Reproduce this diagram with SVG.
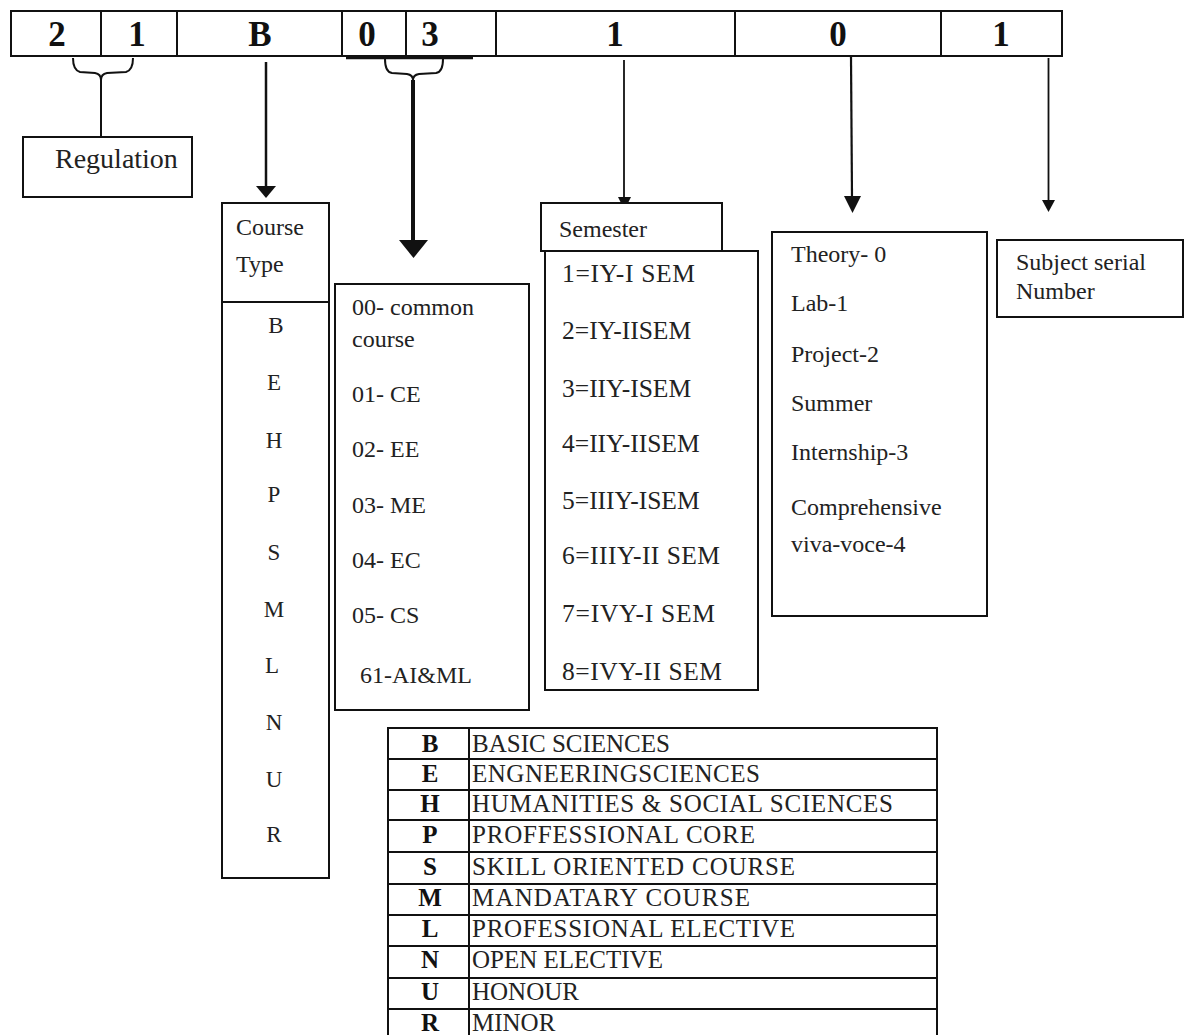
<svg xmlns="http://www.w3.org/2000/svg" width="1184" height="1035" viewBox="0 0 1184 1035">
<style>
.bx{fill:#fff;stroke:#111;stroke-width:2}
.t{font-family:"Liberation Serif","Times New Roman",serif;font-size:24px;fill:#222}
.ts{font-family:"Liberation Serif","Times New Roman",serif;font-size:25.5px;fill:#222}
.tb{font-family:"Liberation Serif","Times New Roman",serif;font-size:25px;fill:#222}
.dg{font-family:"Liberation Serif","Times New Roman",serif;font-size:35px;font-weight:bold;fill:#111;text-anchor:middle}
.lt{font-family:"Liberation Serif","Times New Roman",serif;font-size:25px;font-weight:bold;fill:#111;text-anchor:middle}
.cl{font-family:"Liberation Serif","Times New Roman",serif;font-size:23px;fill:#222;text-anchor:middle}
.ln{stroke:#111;fill:none}
</style>
<rect width="1184" height="1035" fill="#fff"/>

<g id="code-bar">
<rect class="bx" x="11" y="11" width="1051" height="45"/>
<g class="ln" stroke-width="2">
<line x1="101" y1="11" x2="101" y2="56"/>
<line x1="177" y1="11" x2="177" y2="56"/>
<line x1="342" y1="11" x2="342" y2="56"/>
<line x1="406" y1="11" x2="406" y2="56"/>
<line x1="496" y1="11" x2="496" y2="56"/>
<line x1="735" y1="11" x2="735" y2="56"/>
<line x1="941" y1="11" x2="941" y2="56"/>
</g>
<text class="dg" x="57" y="46">2</text>
<text class="dg" x="137" y="46">1</text>
<text class="dg" x="260" y="46">B</text>
<text class="dg" x="367" y="46">0</text>
<text class="dg" x="430" y="46">3</text>
<text class="dg" x="615" y="46">1</text>
<text class="dg" x="838" y="46">0</text>
<text class="dg" x="1001" y="46">1</text>
</g>

<g id="connectors">
<path class="ln" stroke="#444" stroke-width="2" d="M73,58 Q73,70 80,72 L95,73 Q101,74 101,80 Q101,74 107,73 L126,72 Q133,70 133,58"/>
<line class="ln" stroke="#444" stroke-width="2" x1="101" y1="80" x2="101" y2="136"/>
<line class="ln" stroke-width="3.5" x1="346" y1="57.5" x2="473" y2="57.5"/>
<path class="ln" stroke="#444" stroke-width="2" d="M385,59 Q385,72 392,73 L407,74 Q413,75 413,80 Q413,75 419,74 L436,73 Q443,72 443,59"/>
<line class="ln" stroke-width="4" x1="413" y1="80" x2="413" y2="242"/>
<polygon points="399,240 428,240 413.5,258" fill="#111"/>
<line class="ln" stroke-width="2.5" x1="266" y1="62" x2="266" y2="188"/>
<polygon points="256,186 276,186 266,198" fill="#111"/>
<line class="ln" stroke="#444" stroke-width="1.8" x1="624" y1="60" x2="624" y2="200"/>
<polygon points="618,197 631,197 624.5,210" fill="#111"/>
<line class="ln" stroke="#333" stroke-width="2.2" x1="851" y1="57" x2="852" y2="198"/>
<polygon points="844,196 861,196 852.5,213" fill="#111"/>
<line class="ln" stroke="#555" stroke-width="1.8" x1="1048.5" y1="58" x2="1048.5" y2="202"/>
<polygon points="1042,200 1055,200 1048.5,212" fill="#111"/>
</g>

<g id="regulation">
<rect class="bx" x="23" y="137" width="169" height="60"/>
<text class="t" x="55" y="168" style="font-size:28px">Regulation</text>
</g>

<g id="course-type">
<rect class="bx" x="222" y="203" width="107" height="675"/>
<line class="ln" stroke-width="2" x1="222" y1="302" x2="329" y2="302"/>
<text class="t" x="236" y="235">Course</text>
<text class="t" x="236" y="272">Type</text>
<text class="cl" x="276" y="333">B</text>
<text class="cl" x="274" y="390">E</text>
<text class="cl" x="274" y="448">H</text>
<text class="cl" x="274" y="502">P</text>
<text class="cl" x="274" y="560">S</text>
<text class="cl" x="274" y="617">M</text>
<text class="cl" x="272" y="673">L</text>
<text class="cl" x="274" y="730">N</text>
<text class="cl" x="274" y="787">U</text>
<text class="cl" x="274" y="842">R</text>
</g>

<g id="branch">
<rect class="bx" x="335" y="284" width="194" height="426"/>
<text class="t" x="352" y="315">00- common</text>
<text class="t" x="352" y="347">course</text>
<text class="t" x="352" y="402">01- CE</text>
<text class="t" x="352" y="457">02- EE</text>
<text class="t" x="352" y="513">03- ME</text>
<text class="t" x="352" y="568">04- EC</text>
<text class="t" x="352" y="623">05- CS</text>
<text class="t" x="360" y="683">61-AI&amp;ML</text>
</g>

<g id="semester">
<rect class="bx" x="545" y="251" width="213" height="439"/>
<rect class="bx" x="541" y="203" width="181" height="48" stroke-width="2.5"/>
<text class="t" x="559" y="237">Semester</text>
<text class="ts" x="562" y="282" textLength="133">1=IY-I SEM</text>
<text class="ts" x="562" y="339">2=IY-IISEM</text>
<text class="ts" x="562" y="397">3=IIY-ISEM</text>
<text class="ts" x="562" y="452">4=IIY-IISEM</text>
<text class="ts" x="562" y="509">5=IIIY-ISEM</text>
<text class="ts" x="562" y="564" textLength="158">6=IIIY-II SEM</text>
<text class="ts" x="562" y="622" textLength="153">7=IVY-I SEM</text>
<text class="ts" x="562" y="680" textLength="160">8=IVY-II SEM</text>
</g>

<g id="subject-kind">
<rect class="bx" x="772" y="232" width="215" height="384"/>
<text class="t" x="791" y="262">Theory- 0</text>
<text class="t" x="791" y="311">Lab-1</text>
<text class="t" x="791" y="362">Project-2</text>
<text class="t" x="791" y="411">Summer</text>
<text class="t" x="791" y="460">Internship-3</text>
<text class="t" x="791" y="515">Comprehensive</text>
<text class="t" x="791" y="552">viva-voce-4</text>
</g>

<g id="serial">
<rect class="bx" x="997" y="240" width="186" height="77"/>
<text class="t" x="1016" y="270">Subject serial</text>
<text class="t" x="1016" y="299">Number</text>
</g>

<g id="legend-table">
<rect class="bx" x="388" y="728" width="549" height="320"/>
<g class="ln" stroke-width="2">
<line x1="469" y1="728" x2="469" y2="1035"/>
<line x1="388" y1="759" x2="937" y2="759"/>
<line x1="388" y1="790" x2="937" y2="790"/>
<line x1="388" y1="820" x2="937" y2="820"/>
<line x1="388" y1="852" x2="937" y2="852"/>
<line x1="388" y1="884" x2="937" y2="884"/>
<line x1="388" y1="915" x2="937" y2="915"/>
<line x1="388" y1="946" x2="937" y2="946"/>
<line x1="388" y1="978" x2="937" y2="978"/>
<line x1="388" y1="1009" x2="937" y2="1009"/>
</g>
<text class="lt" x="430" y="752">B</text>
<text class="lt" x="430" y="782">E</text>
<text class="lt" x="430" y="812">H</text>
<text class="lt" x="430" y="843">P</text>
<text class="lt" x="430" y="875">S</text>
<text class="lt" x="430" y="906">M</text>
<text class="lt" x="430" y="937">L</text>
<text class="lt" x="430" y="968">N</text>
<text class="lt" x="430" y="1000">U</text>
<text class="lt" x="430" y="1031">R</text>
<text class="tb" x="472" y="752">BASIC SCIENCES</text>
<text class="tb" x="472" y="782" textLength="288">ENGNEERINGSCIENCES</text>
<text class="tb" x="472" y="812" textLength="421">HUMANITIES &amp; SOCIAL SCIENCES</text>
<text class="tb" x="472" y="843" textLength="283">PROFFESSIONAL CORE</text>
<text class="tb" x="472" y="875" textLength="323">SKILL ORIENTED COURSE</text>
<text class="tb" x="472" y="906" textLength="278">MANDATARY COURSE</text>
<text class="tb" x="472" y="937" textLength="323">PROFESSIONAL ELECTIVE</text>
<text class="tb" x="472" y="968">OPEN ELECTIVE</text>
<text class="tb" x="472" y="1000">HONOUR</text>
<text class="tb" x="472" y="1031">MINOR</text>
</g>
</svg>
